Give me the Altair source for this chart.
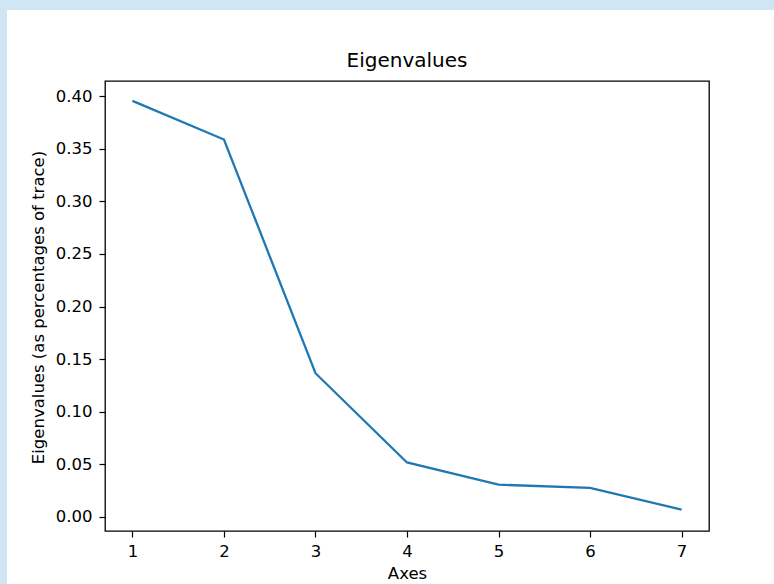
import altair as alt
import pandas as pd

axes = [1, 2, 3, 4, 5, 6, 7]
eigen = [0.3955, 0.3588, 0.1366, 0.0517, 0.0306, 0.0276, 0.0069]
y_ticks = [0.00, 0.05, 0.10, 0.15, 0.20, 0.25, 0.30, 0.35, 0.40]

df = pd.DataFrame({"Axes": axes, "Eigen": eigen})

FONT = "DejaVu Sans"
W, H = 604, 450
PL, PT = 105, 81

line = alt.Chart(df).mark_line(color="#1f77b4", strokeWidth=2.3).encode(
    x=alt.X("Axes:Q",
            scale=alt.Scale(domain=[0.7, 7.3], nice=False, zero=False),
            axis=alt.Axis(values=axes, format="d", title="Axes", grid=False,
                          domain=False, tickSize=6, tickColor="#000", tickWidth=1.2,
                          labelFont=FONT, labelFontSize=16.5, labelColor="#000",
                          labelBaseline="alphabetic", labelPadding=19,
                          titleFont=FONT, titleFontSize=16.5, titleFontWeight="normal",
                          titleColor="#000", titleBaseline="alphabetic",
                          titleX=W / 2, titleY=47)),
    y=alt.Y("Eigen:Q",
            scale=alt.Scale(domain=[-0.01345, 0.41445], nice=False, zero=False),
            axis=alt.Axis(values=y_ticks, format=".2f",
                          title="Eigenvalues (as percentages of trace)", grid=False,
                          domain=False, tickSize=6, tickColor="#000", tickWidth=1.2,
                          labelFont=FONT, labelFontSize=16.5, labelColor="#000",
                          labelPadding=7,
                          titleFont=FONT, titleFontSize=16.5, titleFontWeight="normal",
                          titleColor="#000", titleBaseline="alphabetic",
                          titleX=-62, titleY=H / 2 + 1)),
)

frame_src = alt.Data(values=[{"k": 0}])
band_top = alt.Chart(frame_src).mark_rect(color="#d0e6f4").encode(
    x=alt.value(-PL), x2=alt.value(774 - PL), y=alt.value(-PT), y2=alt.value(-PT + 10))
band_left = alt.Chart(frame_src).mark_rect(color="#d0e6f4").encode(
    x=alt.value(-PL), x2=alt.value(-PL + 7), y=alt.value(-PT), y2=alt.value(584 - PT))

chart = alt.layer(band_top, band_left, line).properties(
    width=W, height=H,
    autosize=alt.AutoSizeParams(type="none"),
    padding={"left": PL, "top": PT, "right": 774 - PL - W, "bottom": 584 - PT - H},
    background="white",
    title=alt.TitleParams("Eigenvalues", font=FONT, fontSize=20, fontWeight="normal",
                          color="#000", anchor="middle", frame="group",
                          baseline="alphabetic", offset=0, dy=87),
).configure_view(stroke="#000", strokeWidth=1.3)

chart.save("out.html", embed_options={"renderer": "svg", "actions": False})
